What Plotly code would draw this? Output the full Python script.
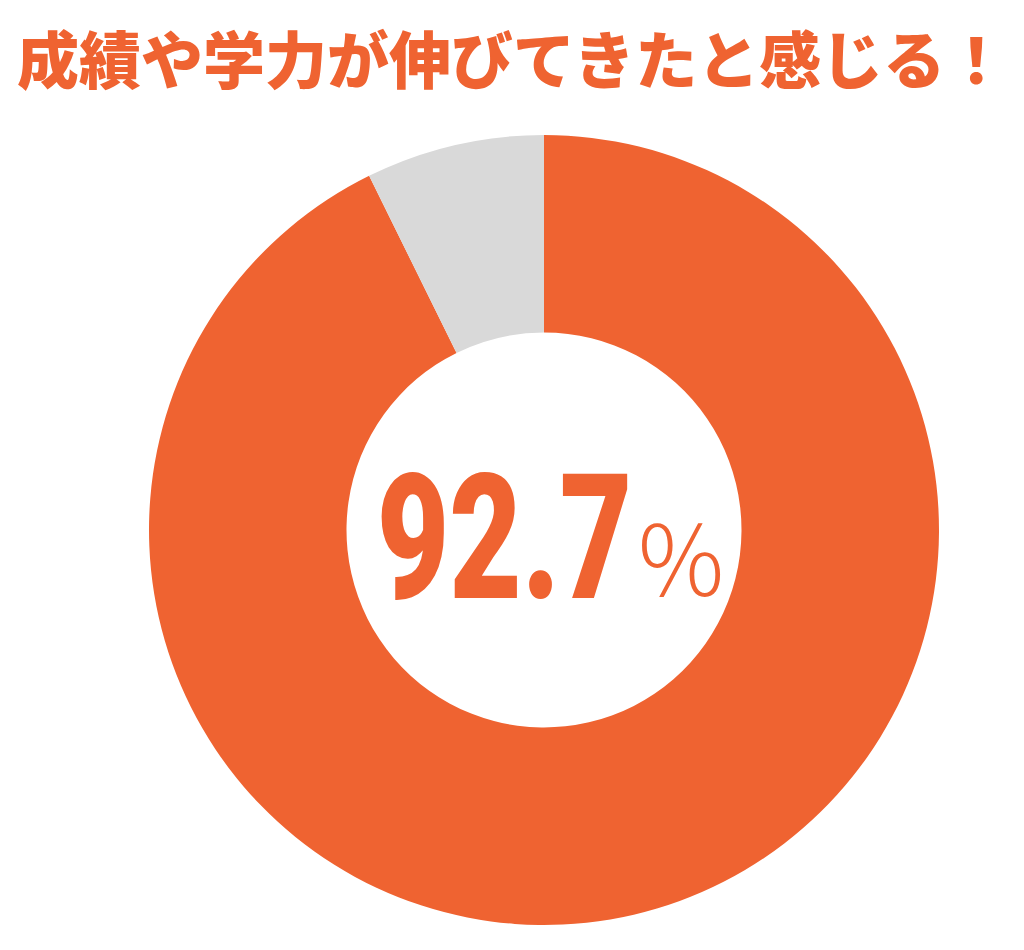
import plotly.graph_objects as go

labels = ["伸びてきたと感じる", "その他"]
values = [92.7, 7.3]
colors = ["#EF6331", "#D9D9D9"]
title_text = "成績や学力が伸びてきたと感じる！"
center_value = "92.7"

fig = go.Figure()

fig.add_trace(go.Pie(
    labels=labels,
    values=values,
    hole=0.5,
    sort=False,
    direction="clockwise",
    rotation=0,
    marker=dict(colors=colors, line=dict(width=0)),
    textinfo="none",
    hoverinfo="label+percent",
    showlegend=False,
    domain=dict(x=[149 / 1024, 939 / 1024], y=[25 / 950, 815 / 950]),
))

# title across the top
fig.add_annotation(
    text=title_text,
    x=0.5, y=1 - 57 / 950, xref="paper", yref="paper",
    xanchor="center", yanchor="middle",
    showarrow=False,
    font=dict(family="Noto Sans CJK JP", size=62, color=colors[0], weight=900),
)

# big number in the hole (squeezed sideways below to look condensed)
fig.add_annotation(
    text=center_value,
    x=504 / 1024, y=1 - 538 / 950, xref="paper", yref="paper",
    xanchor="center", yanchor="middle",
    showarrow=False,
    font=dict(family="Roboto", size=174, color=colors[0], weight=900),
)
fig.add_annotation(
    text="％",
    x=681 / 1024, y=1 - 554 / 950, xref="paper", yref="paper",
    xanchor="center", yanchor="middle",
    showarrow=False,
    font=dict(family="Noto Sans CJK JP", size=96, color=colors[0], weight=300),
)

fig.update_layout(
    width=1024,
    height=950,
    margin=dict(l=0, r=0, t=0, b=0),
    paper_bgcolor="white",
    plot_bgcolor="white",
)

# no page margin, and a narrow look for the big number
js = """
document.body.style.margin = '0';
var t = document.querySelector('g.annotation[data-index="1"] text');
if (t) {
  t.style.transformBox = 'fill-box';
  t.style.transformOrigin = 'center';
  t.style.transform = 'scaleX(0.72)';
}
"""
fig.write_html("out.html", post_script=js, config={"displayModeBar": False})
